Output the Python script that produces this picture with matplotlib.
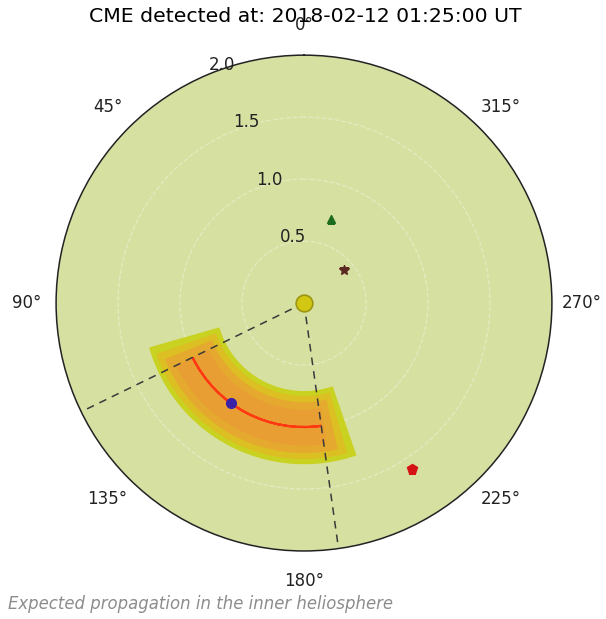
import numpy as np
import matplotlib
matplotlib.use('Agg')
import matplotlib.pyplot as plt

# CME info
title_text = 'CME detected at: 2018-02-12 01:25:00 UT'
caption_text = 'Expected propagation in the inner heliosphere'

# CME cone edges (deg) and predicted front distance (AU)
cme_edges = [116, 188]
cme_front_r = 1.0

# uncertainty band layers: outer -> inner
layer_theta_min = [106, 109, 112, 116]
layer_theta_max = [199, 196, 193, 189]
layer_r_min = [0.71, 0.75, 0.80, 0.86]
layer_r_max = [1.30, 1.26, 1.21, 1.15]
layer_colors = ['#c9d220', '#dcbf22', '#e4a92e', '#e89e32']

# planets: name, angle (deg), distance (AU)
planet_names = ['Mercury', 'Venus', 'Earth', 'Mars']
planet_theta = [310, 342, 144, 213]
planet_r = [0.42, 0.71, 1.0, 1.60]
planet_markers = ['*', '^', 'o', 'p']
planet_colors = ['#5a2a22', '#1d6b1d', '#3a22a8', '#d41414']
planet_sizes = [7, 6, 7, 7]

r_ticks = [0.5, 1.0, 1.5, 2.0]
theta_ticks = [0, 45, 90, 135, 180, 225, 270, 315]

fig = plt.figure(figsize=(6.06, 6.19), dpi=100)
ax = fig.add_axes([0.0924, 0.1099, 0.8185, 0.801], projection='polar')
ax.set_theta_zero_location('N')
ax.set_theta_direction(1)
ax.set_facecolor('#d6e0a1')
ax.set_ylim(0, 2.0)

# band layers as annular sectors
for t0, t1, r0, r1, c in zip(layer_theta_min, layer_theta_max,
                             layer_r_min, layer_r_max, layer_colors):
    t0r, t1r = np.radians(t0), np.radians(t1)
    ax.bar((t0r + t1r) / 2, r1 - r0, width=t1r - t0r, bottom=r0,
           color=c, edgecolor='none', zorder=2)

# predicted front (zero-height bar -> arc at constant r)
e0, e1 = np.radians(cme_edges[0]), np.radians(cme_edges[1])
ax.bar((e0 + e1) / 2, 0, width=e1 - e0, bottom=cme_front_r, fill=False,
       edgecolor='#ff3a12', lw=1.6, zorder=3)

# cone edges
for e in cme_edges:
    ax.plot([np.radians(e), np.radians(e)], [0, 2.0], color='#3a3a3a',
            lw=1.1, ls=(0, (5, 4)), zorder=4)

# sun
ax.plot(0, 0, 'o', ms=12, color='#d2c814', mec='#9c9412', mew=1.2, zorder=5)

for name, t, r, m, c, s in zip(planet_names, planet_theta, planet_r,
                               planet_markers, planet_colors, planet_sizes):
    ax.plot(np.radians(t), r, marker=m, ms=s, color=c, mec=c, ls='none',
            zorder=6, label=name)

ax.set_rticks(r_ticks)
ax.set_yticklabels([f'{v:.1f}' for v in r_ticks], fontsize=12, color='#222222')
ax.set_rlabel_position(22.5)
ax.set_xticks(np.radians(theta_ticks))
ax.set_xticklabels([f'{t}°' for t in theta_ticks], fontsize=12, color='#222222')
ax.tick_params(axis='x', pad=11)
ax.yaxis.grid(True, color='white', ls='--', lw=0.9, alpha=0.35)
ax.xaxis.grid(False)
ax.spines['polar'].set_color('#222222')
ax.spines['polar'].set_linewidth(1.1)

fig.text(0.503, 1 - 17 / 619, title_text, ha='center', va='center', fontsize=14.7)
fig.text(8 / 606, 1 - 604 / 619, caption_text, ha='left', va='center',
         fontsize=11.9, style='italic', color='#8c8c8c')

fig.savefig('out.png', dpi=100)
